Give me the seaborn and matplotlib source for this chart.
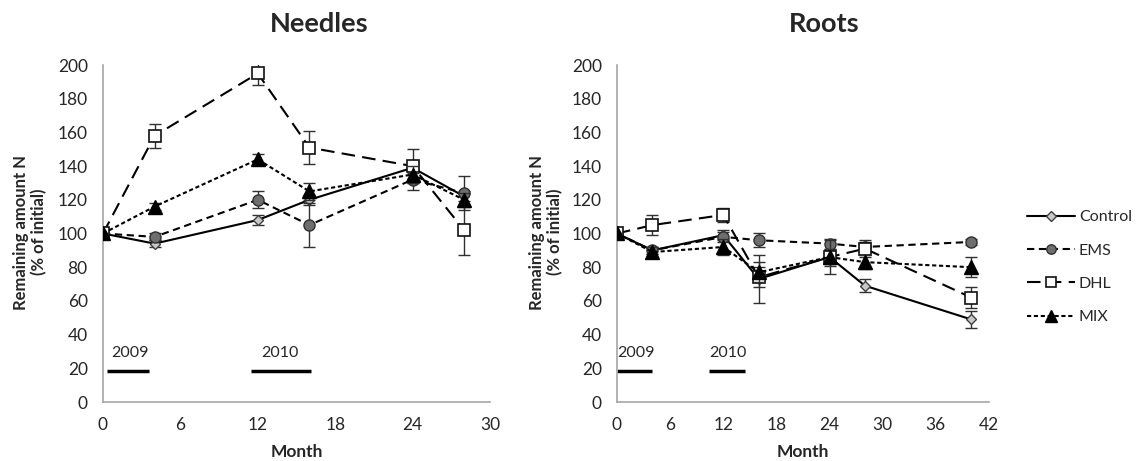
import matplotlib
matplotlib.use("Agg")
import matplotlib.pyplot as plt
import seaborn as sns
import pandas as pd
from matplotlib.lines import Line2D

sns.set_style("white")
plt.rcParams['font.family'] = ['Lato', 'DejaVu Sans']

# ---------------- data ----------------
series = ["Control", "EMS", "DHL", "MIX"]

needles_month = [0, 4, 12, 16, 24, 28]
needles_control = [100, 94, 108, 120, 139, 122]
needles_control_err = [0, 2, 3, 3, 3, 3]
needles_ems = [100, 98, 120, 105, 132, 124]
needles_ems_err = [0, 2, 5, 13, 6, 10]
needles_dhl = [100, 158, 195, 151, 140, 102]
needles_dhl_err = [0, 7, 7, 10, 10, 15]
needles_mix = [100, 116, 144, 125, 135, 120]
needles_mix_err = [0, 2, 3, 5, 5, 4]

roots_month = [0, 4, 12, 16, 24, 28, 40]
roots_control = [100, 90, 99, 73, 86, 69, 49]
roots_control_err = [0, 2, 3, 14, 4, 4, 5]
roots_ems = [100, 90, 98, 96, 94, 92, 95]
roots_ems_err = [0, 2, 3, 4, 3, 3, 2]
roots_dhl = [100, 105, 111, 74, 86, 91, 62]
roots_dhl_err = [0, 6, 4, 6, 10, 5, 6]
roots_mix = [100, 89, 92, 77, 86, 83, 80]
roots_mix_err = [0, 3, 5, 6, 5, 4, 6]

year_labels = ["2009", "2010"]

# ---------------- styles ----------------
styles = {
    "Control": dict(ls="-", dashes=None, marker="D", ms=5.5, mfc="#c8c8c8", mec="#404040", mew=1.0),
    "EMS": dict(ls="--", dashes=(3.5, 2.2), marker="o", ms=8, mfc="#6e6e6e", mec="#303030", mew=1.0),
    "DHL": dict(ls="--", dashes=(6.5, 3.5), marker="s", ms=8, mfc="white", mec="#111111", mew=1.2),
    "MIX": dict(ls="--", dashes=(2.0, 1.3), marker="^", ms=10, mfc="black", mec="black", mew=1.0),
}


def long_df(month, vals, errs):
    rows = []
    for name, v, e in zip(series, vals, errs):
        for m, y, s in zip(month, v, e):
            rows.append(dict(Month=m, value=y, err=s, series=name))
    return pd.DataFrame(rows)


needles_df = long_df(needles_month,
                     [needles_control, needles_ems, needles_dhl, needles_mix],
                     [needles_control_err, needles_ems_err, needles_dhl_err, needles_mix_err])
roots_df = long_df(roots_month,
                   [roots_control, roots_ems, roots_dhl, roots_mix],
                   [roots_control_err, roots_ems_err, roots_dhl_err, roots_mix_err])

fig = plt.figure(figsize=(11.36, 4.61), dpi=100)
ax1 = fig.add_axes([103 / 1136, 59 / 461, 387 / 1136, 337 / 461])
ax2 = fig.add_axes([617 / 1136, 59 / 461, 372 / 1136, 337 / 461])


def draw(ax, df, xmax, year_spans, year_text_x):
    for z, name in enumerate(series):
        sub = df[df.series == name]
        st = styles[name]
        ax.errorbar(sub.Month, sub.value, yerr=sub.err, fmt="none", ecolor="#303030",
                    elinewidth=1.0, capsize=4, capthick=1.0, zorder=2 + z)
        kw = dict(color="black", lw=1.5, marker=st["marker"], markersize=st["ms"],
                  markerfacecolor=st["mfc"], markeredgecolor=st["mec"], markeredgewidth=st["mew"])
        sns.lineplot(data=sub, x="Month", y="value", ax=ax, estimator=None, sort=False,
                     legend=False, zorder=3 + z, **kw)
        line = ax.lines[-1]
        if st["dashes"] is not None:
            line.set_dashes(st["dashes"])
    for (x0, x1), tx, lab in zip(year_spans, year_text_x, year_labels):
        ax.plot([x0, x1], [18.5, 18.5], color="black", lw=2.5, solid_capstyle="butt")
        ax.text(tx, 25, lab, fontsize=11.5, ha="left", va="bottom")
    ax.set_xlim(0, xmax)
    ax.set_ylim(0, 200)
    ax.set_xticks(range(0, xmax + 1, 6))
    ax.set_yticks(range(0, 201, 20))
    ax.tick_params(length=0, labelsize=12.5, pad=11)
    for s in ["top", "right"]:
        ax.spines[s].set_visible(False)
    for s in ["left", "bottom"]:
        ax.spines[s].set_color("#a6a6a6")
        ax.spines[s].set_linewidth(1.2)
    ax.set_xlabel("Month", fontsize=12.5, fontweight="bold", labelpad=8)
    ax.set_ylabel("")
    ax.set_facecolor("white")


draw(ax1, needles_df, 30, [(0.3, 3.6), (11.5, 16.1)], [0.6, 12.3])
draw(ax2, roots_df, 42, [(0.0, 4.0), (10.4, 14.5)], [0.0, 10.4])

fig.text(319 / 1136, 1 - 24 / 461, "Needles", fontsize=19.5, fontweight="bold", ha="center", va="center")
fig.text(824 / 1136, 1 - 24 / 461, "Roots", fontsize=19.5, fontweight="bold", ha="center", va="center")

for xp in [30 / 1136, 546 / 1136]:
    fig.text(xp, 1 - 232 / 461, "Remaining amount N\n(% of initial)", rotation=90,
             fontsize=12, fontweight="bold", ha="center", va="center", multialignment="center",
             linespacing=1.2)

handles = []
for name in series:
    st = styles[name]
    h = Line2D([0], [0], color="black", lw=1.5, marker=st["marker"], markersize=st["ms"] * 0.85,
               markerfacecolor=st["mfc"], markeredgecolor=st["mec"], markeredgewidth=st["mew"])
    if st["dashes"] is not None:
        h.set_dashes(st["dashes"])
    handles.append(h)
leg = fig.legend(handles, series, loc="upper left", bbox_to_anchor=(1027 / 1136, 1 - 210 / 461),
                 frameon=False, fontsize=11.5, handlelength=3.0, labelspacing=1.2,
                 handletextpad=0.25, borderaxespad=0, borderpad=0)

fig.savefig("out.png", dpi=100, facecolor="white")
